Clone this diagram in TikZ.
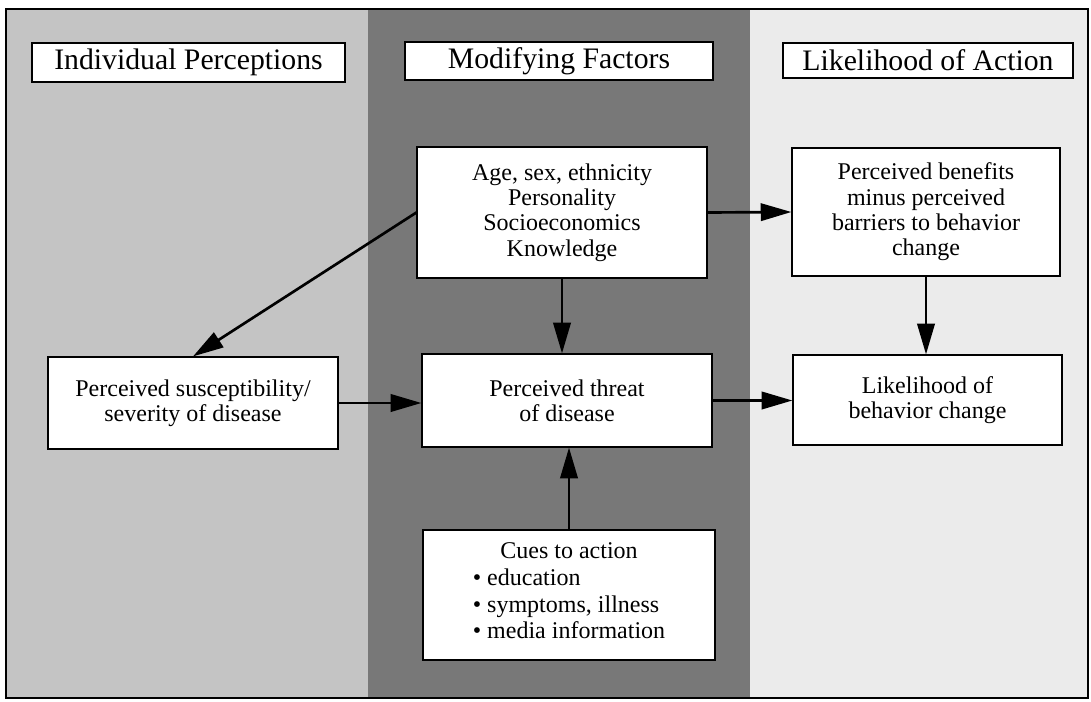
\documentclass[tikz,border=0pt]{standalone}
\usepackage{fontspec}
\setmainfont{Liberation Serif}
\usetikzlibrary{arrows.meta}
\definecolor{leftgray}{HTML}{C4C4C4}
\definecolor{midgray}{HTML}{787878}
\definecolor{rightgray}{HTML}{EBEBEB}
\begin{document}
\begin{tikzpicture}[x=0.75pt,y=-0.75pt,
  wh/.style 2 args={minimum width=#1*0.75pt, minimum height=#2*0.75pt},
  box/.style={draw=black, line width=0.9pt, fill=white, inner sep=0pt, align=center,
              font=\fontsize{18}{19}\selectfont},
  header/.style={draw=black, line width=0.8pt, fill=white, inner sep=0pt,
              font=\fontsize{22.3}{24}\selectfont},
  arr/.style={line width=2pt, -{Triangle[length=23pt,width=13pt]}}]
\useasboundingbox (0,0) rectangle (1091,702);
\fill[white] (0,0) rectangle (1091,702);
% panels
\fill[leftgray] (6,9) rectangle (368,698);
\fill[midgray] (368,9) rectangle (750,698);
\fill[rightgray] (750,9) rectangle (1088,698);
\draw[line width=1.2pt] (6,9) rectangle (1088,698);
% headers
\node[header, wh={313}{39}] (hIP) at (188.5,62.5) {Individual Perceptions};
\node[header, wh={308}{38}] (hMF) at (559,61) {Modifying Factors};
\node[header, wh={290}{35}] (hLA) at (928,60.5) {Likelihood of Action};
% boxes
\node[box, wh={290}{131}] (age) at (562,212.5) {Age, sex, ethnicity\\Personality\\Socioeconomics\\Knowledge};
\node[box, wh={268}{128}] (ben) at (926,212) {Perceived benefits\\minus perceived\\barriers to behavior\\change};
\node[box, wh={290}{92}] (sus) at (193,403) {Perceived susceptibility/\\severity of disease};
\node[box, wh={290}{93}] (threat) at (567,400.5) {Perceived threat\\of disease};
\node[box, wh={269}{90}] (lik) at (927.5,400) {Likelihood of\\behavior change};
\node[box, wh={292}{130}, font=\fontsize{18}{20}\selectfont] (cues) at (569,595)
  {Cues to action\\\begin{tabular}[t]{@{}l@{}}\textbullet\ education\\ \textbullet\ symptoms, illness\\ \textbullet\ media information\end{tabular}};
% arrows
\draw[arr] (age.west) -- (sus.north);
\draw[arr] (age.east) -- (ben.west);
\draw[arr] (age.south) -- (age.south |- threat.north);
\draw[arr] (ben.south) -- (ben.south |- lik.north);
\draw[arr] (sus.east) -- (sus.east -| threat.west);
\draw[arr] (threat.east) -- (threat.east -| lik.west);
\draw[arr] (cues.north) -- (cues.north |- threat.south);
\end{tikzpicture}
\end{document}
